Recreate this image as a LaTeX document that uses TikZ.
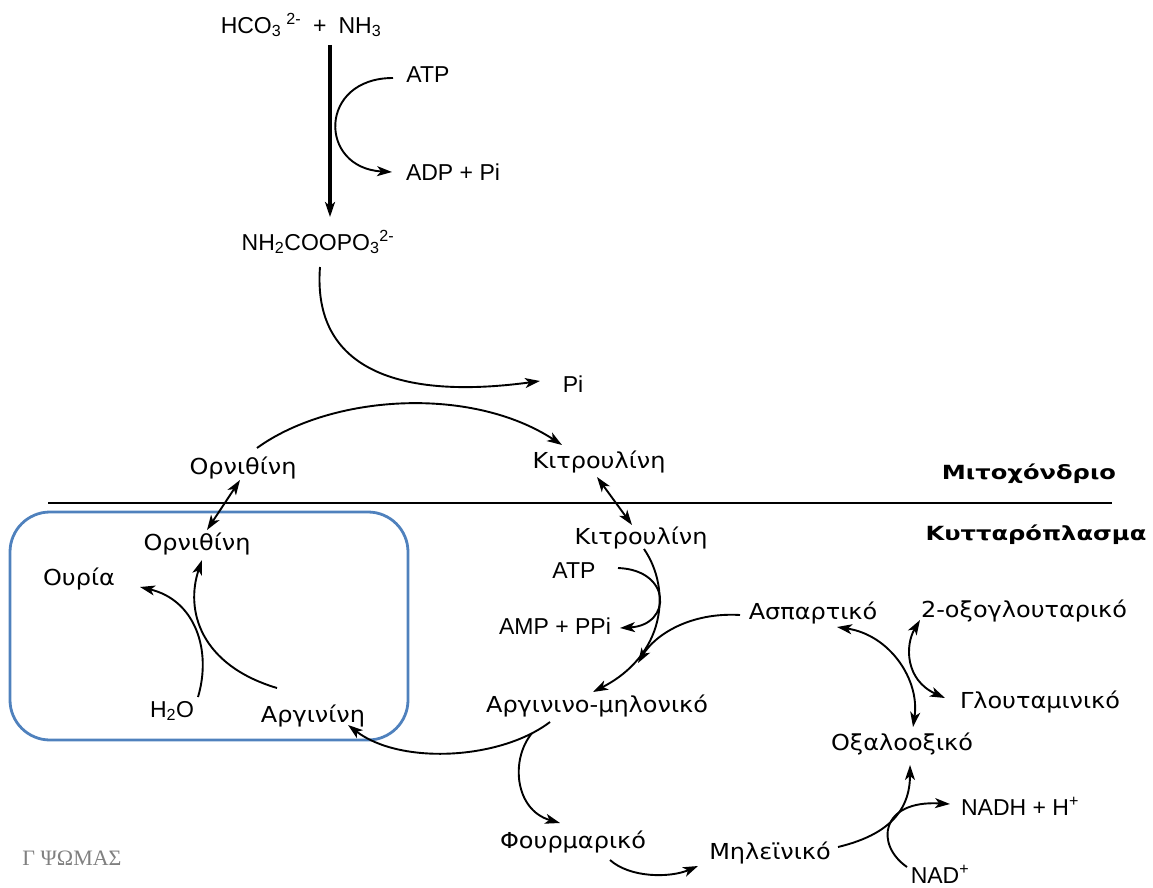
\documentclass[tikz,border=0pt]{standalone}
\usepackage{fontspec}
\setmainfont{DejaVu Sans}
\newfontfamily\grfont[FakeStretch=1.09]{DejaVu Sans}
\newfontfamily\compfont[FakeStretch=1.24]{DejaVu Sans Bold}
\newfontfamily\chemfont{Liberation Sans}
\newfontfamily\signfont{Liberation Serif}
\usetikzlibrary{arrows.meta}
\definecolor{boxblue}{RGB}{79,129,189}

\begin{document}
\begin{tikzpicture}[x=1pt, y=-1pt,
  met/.style={font=\grfont\fontsize{22}{25}\selectfont, inner sep=1pt},
  chem/.style={font=\chemfont\fontsize{23}{26}\selectfont, inner sep=1pt},
  comp/.style={font=\compfont\fontsize{19.5}{22}\selectfont, inner sep=1pt},
  tip/.style={-{Stealth[length=15pt,width=10pt,inset=4pt]}},
  rxn/.style={line width=1.9pt, tip},
  rev/.style={line width=1.9pt, {Stealth[length=15pt,width=10pt,inset=4pt]}-{Stealth[length=15pt,width=10pt,inset=4pt]}}]
  \useasboundingbox (0,0) rectangle (1153,888);

  % mitochondrion
  \node[chem] (hco) at (301,25) {HCO\textsubscript{3}\hspace{5pt}\textsuperscript{2-}\hspace{12pt}+\hspace{12pt}NH\textsubscript{3}};
  \node[chem] (atpA) at (428,75) {ATP};
  \node[chem] (adp) at (453,172) {ADP + Pi};
  \node[chem] (carb) at (318,242) {NH\textsubscript{2}COOPO\textsubscript{3}\textsuperscript{2-}};
  \node[chem] (pi) at (573,384) {Pi};
  \node[met] (ornM) at (243,468) {Ορνιθίνη};
  \node[met] (citM) at (599,462) {Κιτρουλίνη};
  \node[comp] (mito) at (1029,474) {Μιτοχόνδριο};

  \draw[line width=1.5pt] (48,503) -- (1112,503);

  % cytoplasm
  \node[comp] (cyto) at (1036,535) {Κυτταρόπλασμα};
  \draw[boxblue, line width=2.8pt, rounded corners=40pt] (10,512) rectangle (408,740);
  \node[met] (ornC) at (197,544) {Ορνιθίνη};
  \node[met] (urea) at (79,579) {Ουρία};
  \node[chem] (water) at (172,711) {H\textsubscript{2}O};
  \node[met] (arg) at (313,716) {Αργινίνη};
  \node[met] (citC) at (641,538) {Κιτρουλίνη};
  \node[chem] (atpB) at (574,571) {ATP};
  \node[chem] (amp) at (555,626) {AMP + PPi};
  \node[met] (argsuc) at (597,706) {Αργινινο-μηλονικό};
  \node[met] (fum) at (573,842) {Φουρμαρικό};
  \node[met] (mal) at (770,853) {Μηλεϊνικό};
  \node[met] (oaa) at (902,744) {Οξαλοοξικό};
  \node[met] (asp) at (813,613) {Ασπαρτικό};
  \node[met] (oxo) at (1024,611) {2-οξογλουταρικό};
  \node[met] (glu) at (1040,702) {Γλουταμινικό};
  \node[chem] (nadh) at (1020,806) {NADH + H\textsuperscript{+}};
  \node[chem] (nad) at (940,874) {NAD\textsuperscript{+}};
  \node[font=\signfont\fontsize{22}{25}\selectfont, text=gray, inner sep=1pt] (sign) at (72,858) {Γ ΨΩΜΑΣ};

  % reactions
  \draw[line width=3.2pt, tip] ([shift={(29,20)}]hco.center) -- ([shift={(12,-25)}]carb.center);
  \draw[rxn] ([shift={(-35,3)}]atpA.center) .. controls (318,78) and (318,168) .. ([shift={(-61,0)}]adp.center);
  \draw[rxn] ([shift={(2,25)}]carb.center) .. controls (312,370) and (400,400) .. ([shift={(-33,-3)}]pi.center);
  \draw[rxn] ([shift={(14,-20)}]ornM.center) .. controls (330,395) and (470,385) .. ([shift={(-37,-17)}]citM.center);
  \draw[rev] ([shift={(-3,12)}]ornM.center) -- ([shift={(10,-14)}]ornC.center);
  \draw[rev] ([shift={(-2,15)}]citM.center) -- ([shift={(-9,-13)}]citC.center);
  \draw[rxn] ([shift={(26,-14)}]water.center) .. controls (212,650) and (195,600) .. ([shift={(61,8)}]urea.center);
  \draw[rxn] ([shift={(-36,-28)}]arg.center) .. controls (200,665) and (185,610) .. ([shift={(5,16)}]ornC.center);
  \draw[rxn] ([shift={(44,-3)}]atpB.center) .. controls (672,570) and (672,625) .. ([shift={(65,2)}]amp.center);
  \draw[rxn] ([shift={(3,11)}]citC.center) .. controls (672,590) and (665,655) .. ([shift={(-4,-14)}]argsuc.center);
  \draw[rxn] ([shift={(-73,2)}]asp.center) .. controls (690,612) and (655,635) .. ([shift={(41,-43)}]argsuc.center);
  \draw[rxn] ([shift={(-47,16)}]argsuc.center) .. controls (500,760) and (400,765) .. coordinate[pos=0.11] (br) ([shift={(35,9)}]arg.center);
  \draw[rxn] (br) .. controls (510,760) and (515,810) .. ([shift={(-13,-19)}]fum.center);
  \draw[rxn] ([shift={(37,18)}]fum.center) .. controls (630,878) and (670,878) .. ([shift={(-72,13)}]mal.center);
  \draw[rxn] ([shift={(68,-6)}]mal.center) .. controls (875,838) and (910,820) .. ([shift={(8,21)}]oaa.center);
  \draw[rxn] ([shift={(-33,-7)}]nad.center) .. controls (875,845) and (880,800) .. ([shift={(-70,-2)}]nadh.center);
  \draw[rev] ([shift={(24,14)}]asp.center) .. controls (890,635) and (920,680) .. ([shift={(11,-17)}]oaa.center);
  \draw[rev] ([shift={(-104,9)}]oxo.center) .. controls (905,645) and (905,680) .. ([shift={(-95,-4)}]glu.center);
\end{tikzpicture}
\end{document}
